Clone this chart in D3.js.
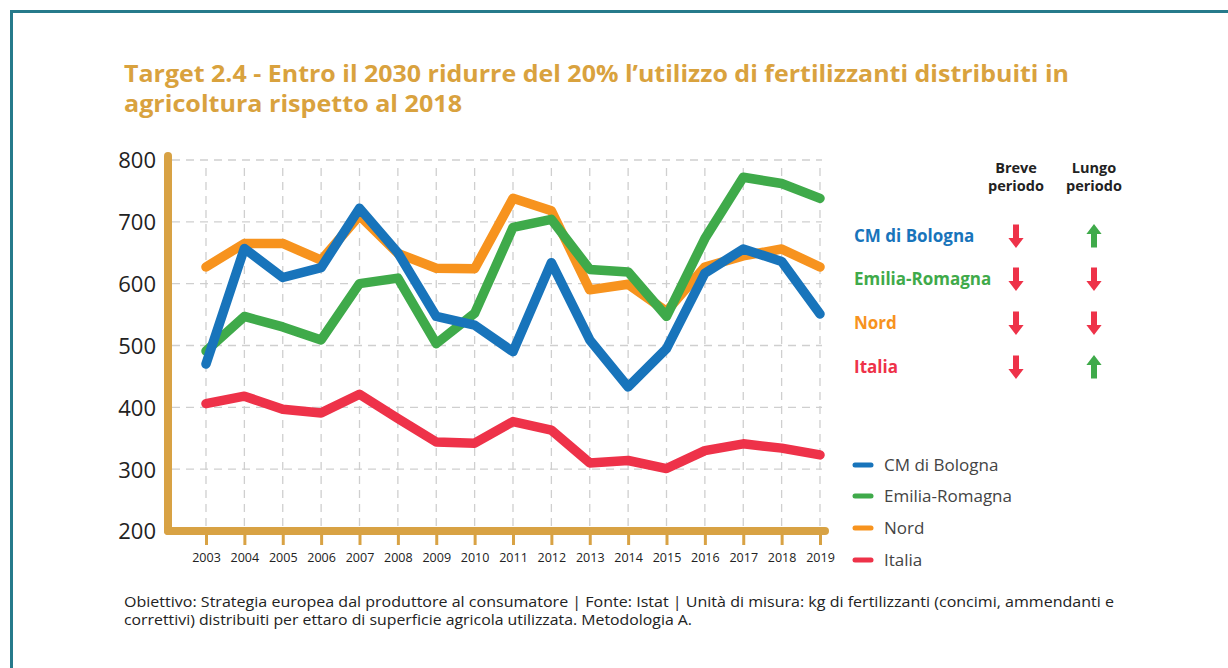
<!DOCTYPE html>
<html><head><meta charset="utf-8">
<script src="https://cdn.jsdelivr.net/npm/d3@7"></script>
<style>
html,body{margin:0;padding:0;background:#fff;}
svg{display:block;}
</style></head>
<body>
<svg id="chart" width="1228" height="668"></svg>
<script>
const years = [2003,2004,2005,2006,2007,2008,2009,2010,2011,2012,2013,2014,2015,2016,2017,2018,2019];
const seriesNames = ["CM di Bologna","Emilia-Romagna","Nord","Italia"];
const bologna = [470,657,610,626,722,650,547,533,490,634,509,433,495,617,656,636,551];
const emilia  = [491,547,530,509,600,609,503,552,691,704,623,619,547,673,772,762,738];
const nord    = [627,665,665,638,710,649,625,624,738,718,590,599,555,627,645,656,627];
const italia  = [406,418,397,391,421,382,344,342,377,363,310,314,301,330,341,334,323];
const yTicks = [200,300,400,500,600,700,800];
const breve = ["down","down","down","down"];
const lungo = ["up","down","down","up"];
const colors = {"CM di Bologna":"#1874bb","Emilia-Romagna":"#3faa4a","Nord":"#f7931e","Italia":"#ee3249"};
const titleLines = ["Target 2.4 - Entro il 2030 ridurre del 20% l’utilizzo di fertilizzanti distribuiti in","agricoltura rispetto al 2018"];
const noteLines = ["Obiettivo: Strategia europea dal produttore al consumatore | Fonte: Istat | Unità di misura: kg di fertilizzanti (concimi, ammendanti e","correttivi) distribuiti per ettaro di superficie agricola utilizzata. Metodologia A."];

const data = {"CM di Bologna":bologna,"Emilia-Romagna":emilia,"Nord":nord,"Italia":italia};
const svg = d3.select("#chart");
const gold = "#d8a244";

// border
svg.append("line").attr("x1",11.5).attr("x2",1228).attr("y1",11.5).attr("y2",11.5).attr("stroke","#267a8b").attr("stroke-width",3);
svg.append("line").attr("x1",11.5).attr("x2",11.5).attr("y1",10).attr("y2",668).attr("stroke","#267a8b").attr("stroke-width",3);

// title
const font = "'Open Sans', 'Noto Sans', sans-serif";
const tt = svg.append("text").attr("font-family",font).attr("font-weight",700).attr("font-size",23).attr("fill","#d9a23e");
tt.append("tspan").attr("x",124).attr("y",82).text(titleLines[0]).attr("textLength",945).attr("lengthAdjust","spacingAndGlyphs");
tt.append("tspan").attr("x",124).attr("y",112).text(titleLines[1]).attr("textLength",338).attr("lengthAdjust","spacingAndGlyphs");

const x = d3.scalePoint().domain(years).range([206,820]);
const y = d3.scaleLinear().domain([200,800]).range([531,160]);

// grid
const grid = svg.append("g");
grid.selectAll("line.h").data(yTicks.filter(d=>d>200)).join("line")
  .attr("x1",172).attr("x2",822).attr("y1",d=>y(d)).attr("y2",d=>y(d))
  .attr("stroke","#cfcfcf").attr("stroke-width",1.3).attr("stroke-dasharray","8,6");
grid.selectAll("line.v").data(years).join("line")
  .attr("x1",d=>x(d)).attr("x2",d=>x(d)).attr("y1",168).attr("y2",528)
  .attr("stroke","#cfcfcf").attr("stroke-width",1.3).attr("stroke-dasharray","8,6");

// axes
const yAxis = svg.append("g").attr("transform","translate(156,0)")
  .call(d3.axisLeft(y).tickValues(yTicks).tickSize(0).tickPadding(0));
yAxis.select(".domain").remove();
yAxis.selectAll("text").attr("font-family",font).attr("font-size",22).attr("fill","#222").attr("dy","0.36em");

const xAxis = svg.append("g").attr("transform","translate(0,531)")
  .call(d3.axisBottom(x).tickSize(14).tickPadding(8));
xAxis.select(".domain").remove();
xAxis.selectAll(".tick line").attr("stroke",gold).attr("stroke-width",3);
xAxis.selectAll("text").attr("font-family",font).attr("font-size",12.5).attr("fill","#222");

svg.append("line").attr("x1",168).attr("x2",168).attr("y1",156).attr("y2",531)
  .attr("stroke",gold).attr("stroke-width",8).attr("stroke-linecap","round");
svg.append("line").attr("x1",168).attr("x2",825).attr("y1",531).attr("y2",531)
  .attr("stroke",gold).attr("stroke-width",8).attr("stroke-linecap","round");

// lines
const line = d3.line().x((d,i)=>x(years[i])).y(d=>y(d));
const drawOrder = ["Italia","Nord","Emilia-Romagna","CM di Bologna"];
svg.append("g").selectAll("path").data(drawOrder).join("path")
  .attr("d",n=>line(data[n])).attr("fill","none").attr("stroke",n=>colors[n])
  .attr("stroke-width",9.5).attr("stroke-linejoin","round").attr("stroke-linecap","round");

// legend
const leg = svg.append("g");
const legY = [465,496,528,560];
seriesNames.forEach((n,i)=>{
  leg.append("line").attr("x1",855).attr("x2",871).attr("y1",legY[i]).attr("y2",legY[i])
    .attr("stroke",colors[n]).attr("stroke-width",5).attr("stroke-linecap","round");
  leg.append("text").attr("x",884).attr("y",legY[i]).attr("dy","0.35em").attr("font-family",font)
    .attr("font-size",17).attr("fill","#444").text(n);
});

// trend table
const tbl = svg.append("g").attr("font-family",font);
const colX = [1016,1094];
[["Breve","periodo"],["Lungo","periodo"]].forEach((h,i)=>{
  tbl.append("text").attr("text-anchor","middle").attr("font-weight",700).attr("font-size",14.5).attr("fill","#222")
    .attr("x",colX[i]).attr("y",173).text(h[0]);
  tbl.append("text").attr("text-anchor","middle").attr("font-weight",700).attr("font-size",14.5).attr("fill","#222")
    .attr("x",colX[i]).attr("y",191).text(h[1]);
});
const rowY = [236,279,323,367];
const arrowPath = "M-3,-11.5 L3,-11.5 L3,2 L7.6,2 L0,12 L-7.6,2 L-3,2 Z";
seriesNames.forEach((n,i)=>{
  tbl.append("text").attr("x",854).attr("y",rowY[i]).attr("dy","0.35em").attr("font-weight",700)
    .attr("font-size",17).attr("fill",colors[n]).text(n);
  [breve[i],lungo[i]].forEach((dir,j)=>{
    tbl.append("path").attr("d",arrowPath)
      .attr("transform",`translate(${colX[j]},${rowY[i]}) rotate(${dir==="up"?180:0})`)
      .attr("fill",dir==="up"?"#3faa4a":"#ee3249");
  });
});

// note
const nt = svg.append("text").attr("font-family",font).attr("font-size",14).attr("fill","#222");
nt.append("tspan").attr("x",124).attr("y",607).text(noteLines[0]).attr("textLength",990).attr("lengthAdjust","spacingAndGlyphs");
nt.append("tspan").attr("x",124).attr("y",625).text(noteLines[1]).attr("textLength",568).attr("lengthAdjust","spacingAndGlyphs");
</script>
</body></html>
